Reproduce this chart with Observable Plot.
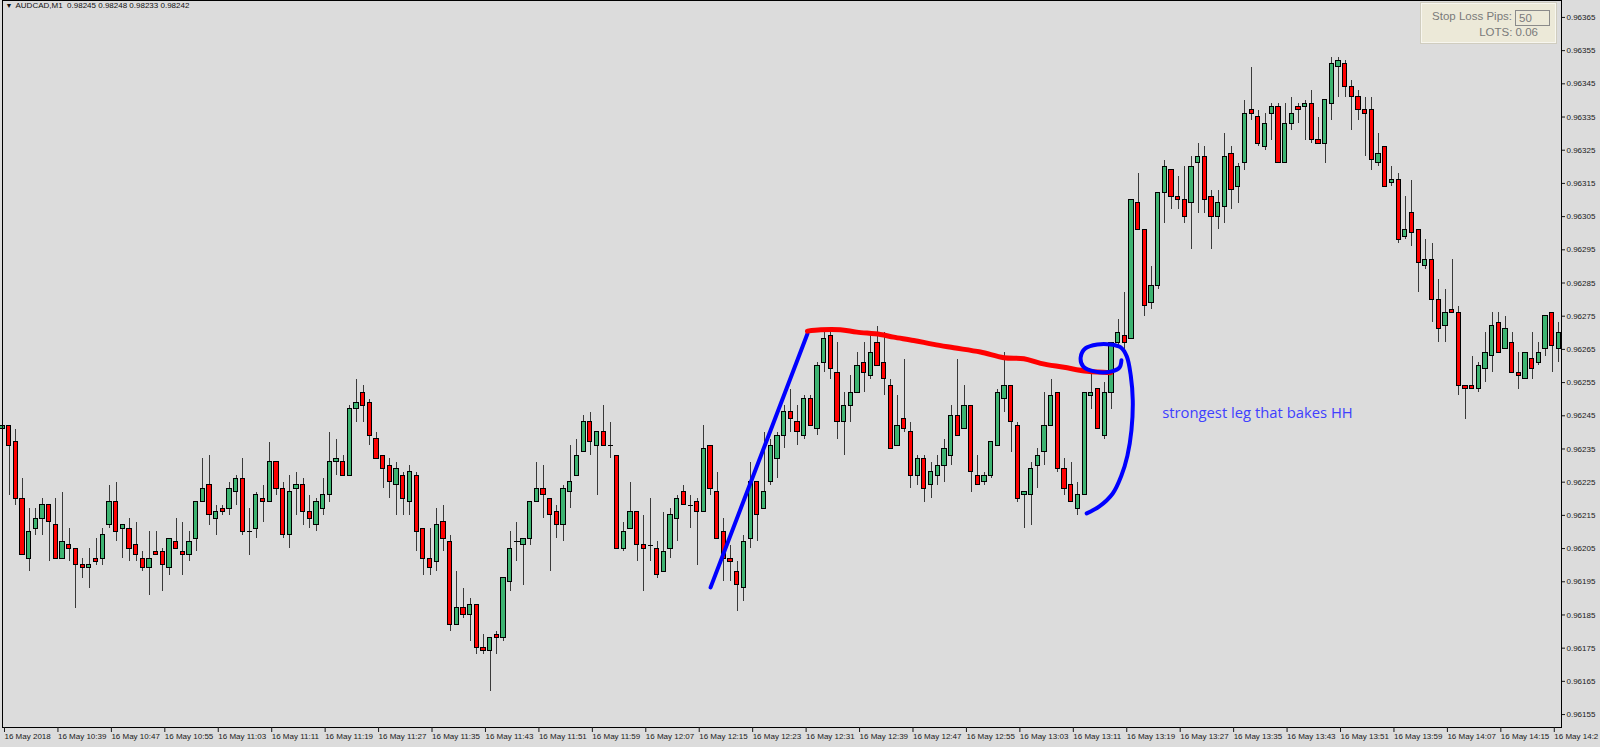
<!DOCTYPE html>
<html>
<head>
<meta charset="utf-8">
<script src="https://cdn.jsdelivr.net/npm/d3@7"></script>
<script src="https://cdn.jsdelivr.net/npm/@observablehq/plot@0.6"></script>
<style>
  html, body { margin: 0; padding: 0; background: #dcdcdc; overflow: hidden; }
  #wrap { position: relative; width: 1600px; height: 747px; }
  #slbox { position: absolute; left: 1421px; top: 3px; width: 133px; height: 38px;
    background: #ece9d8; border: 1px solid #f7f6ef; box-shadow: 0 0 0 1px #d0cdbf;
    font-family: "Liberation Sans", Arial, sans-serif; font-size: 11.5px; color: #7a7a7a; }
  #slbox .l1 { position: absolute; right: 43px; top: 6px; }
  #slbox .inp { position: absolute; left: 93px; top: 6px; width: 30px; height: 14px; border: 1px solid #8a8a8a; padding-left: 3px; line-height: 14px; box-sizing: content-box; }
  #slbox .l2 { position: absolute; right: 17px; top: 22px; }
</style>
</head>
<body>
<div id="wrap"></div>
<script>
// ---- chart header ----
const symbolName = "AUDCAD,M1";
const headerQuote = ["0.98245", "0.98248", "0.98233", "0.98242"];
const stopLossPips = "50";
const lotsValue = "0.06";
const noteText = "strongest leg that bakes HH";

// ---- M1 candles, 16 May 2018 10:31 .. 14:24 (one per minute) ----
const open = [
0.96241,0.96242,0.96237,0.96220,0.96202,0.96211,0.96214,0.96218,0.96212,0.96202,
0.96206,0.96205,0.96200,0.96199,0.96202,0.96202,0.96212,0.96219,0.96211,0.96211,
0.96206,0.96202,0.96199,0.96204,0.96204,0.96199,0.96207,0.96204,0.96203,0.96208,
0.96219,0.96224,0.96214,0.96217,0.96217,0.96222,0.96226,0.96210,0.96211,0.96220,
0.96219,0.96231,0.96223,0.96209,0.96223,0.96224,0.96216,0.96212,0.96217,0.96221,
0.96231,0.96231,0.96227,0.96247,0.96252,0.96249,0.96238,0.96233,0.96230,0.96224,
0.96227,0.96219,0.96227,0.96211,0.96202,0.96201,0.96213,0.96207,0.96182,0.96187,
0.96185,0.96188,0.96175,0.96174,0.96179,0.96178,0.96195,0.96207,0.96206,0.96208,
0.96219,0.96223,0.96220,0.96216,0.96212,0.96222,0.96227,0.96234,0.96243,0.96236,
0.96240,0.96236,0.96233,0.96205,0.96211,0.96216,0.96206,0.96206,0.96205,0.96198,
0.96205,0.96214,0.96222,0.96218,0.96219,0.96216,0.96236,0.96222,0.96210,0.96202,
0.96198,0.96193,0.96208,0.96225,0.96217,0.96225,0.96232,0.96239,0.96246,0.96243,
0.96239,0.96250,0.96241,0.96261,0.96269,0.96258,0.96243,0.96248,0.96252,0.96261,
0.96257,0.96267,0.96261,0.96254,0.96236,0.96244,0.96240,0.96227,0.96232,0.96224,
0.96227,0.96230,0.96233,0.96245,0.96241,0.96248,0.96227,0.96225,0.96227,0.96236,
0.96250,0.96254,0.96242,0.96221,0.96221,0.96230,0.96234,0.96242,0.96252,0.96229,
0.96224,0.96217,0.96221,0.96251,0.96253,0.96239,0.96252,0.96267,0.96269,0.96268,
0.96309,0.96301,0.96279,0.96284,0.96312,0.96319,0.96311,0.96310,0.96309,0.96321,
0.96323,0.96311,0.96305,0.96308,0.96324,0.96314,0.96321,0.96337,0.96335,0.96326,
0.96336,0.96338,0.96321,0.96333,0.96338,0.96338,0.96339,0.96328,0.96327,0.96339,
0.96350,0.96351,0.96344,0.96341,0.96337,0.96337,0.96321,0.96326,0.96315,0.96316,
0.96299,0.96306,0.96301,0.96290,0.96292,0.96280,0.96272,0.96277,0.96276,0.96254,
0.96254,0.96253,0.96259,0.96263,0.96273,0.96265,0.96267,0.96258,0.96256,0.96262,
0.96261,0.96265,0.96276,0.96265];
const high = [
0.96253,0.96242,0.96241,0.96226,0.96217,0.96217,0.96220,0.96218,0.96220,0.96222,
0.96211,0.96205,0.96202,0.96205,0.96208,0.96211,0.96224,0.96225,0.96212,0.96214,
0.96213,0.96204,0.96210,0.96210,0.96205,0.96208,0.96214,0.96213,0.96210,0.96219,
0.96232,0.96233,0.96218,0.96218,0.96225,0.96227,0.96232,0.96217,0.96222,0.96224,
0.96237,0.96231,0.96225,0.96227,0.96228,0.96226,0.96221,0.96220,0.96226,0.96240,
0.96238,0.96233,0.96248,0.96256,0.96254,0.96250,0.96240,0.96233,0.96232,0.96231,
0.96228,0.96230,0.96228,0.96211,0.96211,0.96217,0.96218,0.96209,0.96198,0.96193,
0.96190,0.96188,0.96179,0.96178,0.96180,0.96196,0.96210,0.96213,0.96208,0.96219,
0.96231,0.96230,0.96220,0.96218,0.96224,0.96236,0.96238,0.96245,0.96246,0.96240,
0.96248,0.96243,0.96233,0.96213,0.96225,0.96216,0.96215,0.96220,0.96207,0.96216,
0.96217,0.96221,0.96224,0.96221,0.96220,0.96242,0.96236,0.96228,0.96214,0.96206,
0.96201,0.96209,0.96231,0.96225,0.96240,0.96238,0.96240,0.96248,0.96253,0.96248,
0.96251,0.96251,0.96261,0.96271,0.96270,0.96267,0.96252,0.96257,0.96264,0.96267,
0.96270,0.96272,0.96270,0.96256,0.96251,0.96262,0.96243,0.96233,0.96233,0.96231,
0.96233,0.96238,0.96248,0.96262,0.96254,0.96248,0.96233,0.96228,0.96237,0.96253,
0.96264,0.96254,0.96243,0.96222,0.96231,0.96235,0.96252,0.96256,0.96252,0.96232,
0.96231,0.96225,0.96252,0.96259,0.96253,0.96255,0.96267,0.96274,0.96282,0.96310,
0.96318,0.96301,0.96290,0.96312,0.96322,0.96319,0.96317,0.96320,0.96323,0.96327,
0.96326,0.96313,0.96313,0.96330,0.96326,0.96321,0.96340,0.96350,0.96337,0.96336,
0.96339,0.96339,0.96339,0.96341,0.96339,0.96340,0.96343,0.96335,0.96340,0.96353,
0.96353,0.96352,0.96346,0.96343,0.96341,0.96341,0.96330,0.96326,0.96320,0.96318,
0.96311,0.96316,0.96301,0.96298,0.96297,0.96286,0.96283,0.96292,0.96278,0.96254,
0.96263,0.96261,0.96270,0.96276,0.96276,0.96275,0.96270,0.96264,0.96264,0.96270,
0.96267,0.96275,0.96276,0.96273];
const low = [
0.96239,0.96221,0.96218,0.96203,0.96198,0.96209,0.96209,0.96201,0.96202,0.96202,
0.96201,0.96187,0.96196,0.96193,0.96200,0.96200,0.96211,0.96207,0.96202,0.96201,
0.96201,0.96198,0.96191,0.96203,0.96192,0.96197,0.96205,0.96197,0.96201,0.96204,
0.96219,0.96212,0.96209,0.96215,0.96215,0.96218,0.96209,0.96203,0.96208,0.96213,
0.96219,0.96221,0.96208,0.96205,0.96215,0.96212,0.96211,0.96210,0.96215,0.96219,
0.96227,0.96227,0.96227,0.96243,0.96243,0.96236,0.96232,0.96223,0.96220,0.96215,
0.96215,0.96215,0.96204,0.96197,0.96197,0.96198,0.96204,0.96180,0.96182,0.96184,
0.96177,0.96173,0.96173,0.96162,0.96173,0.96177,0.96192,0.96201,0.96194,0.96206,
0.96219,0.96214,0.96198,0.96208,0.96207,0.96217,0.96227,0.96234,0.96233,0.96221,
0.96236,0.96232,0.96205,0.96204,0.96211,0.96201,0.96192,0.96201,0.96196,0.96198,
0.96202,0.96207,0.96218,0.96211,0.96200,0.96216,0.96221,0.96208,0.96195,0.96195,
0.96186,0.96189,0.96205,0.96207,0.96217,0.96224,0.96226,0.96235,0.96240,0.96236,
0.96238,0.96242,0.96239,0.96258,0.96256,0.96238,0.96233,0.96243,0.96252,0.96252,
0.96256,0.96260,0.96251,0.96235,0.96236,0.96240,0.96223,0.96224,0.96219,0.96220,
0.96224,0.96225,0.96230,0.96239,0.96241,0.96222,0.96224,0.96224,0.96226,0.96236,
0.96246,0.96234,0.96219,0.96211,0.96212,0.96223,0.96230,0.96242,0.96228,0.96221,
0.96219,0.96215,0.96221,0.96247,0.96241,0.96238,0.96247,0.96266,0.96265,0.96268,
0.96301,0.96275,0.96277,0.96283,0.96303,0.96307,0.96307,0.96303,0.96295,0.96306,
0.96306,0.96295,0.96301,0.96303,0.96307,0.96309,0.96319,0.96334,0.96326,0.96325,
0.96328,0.96321,0.96321,0.96331,0.96333,0.96328,0.96327,0.96327,0.96321,0.96334,
0.96341,0.96341,0.96331,0.96334,0.96323,0.96319,0.96320,0.96314,0.96314,0.96297,
0.96298,0.96296,0.96282,0.96289,0.96273,0.96267,0.96267,0.96276,0.96251,0.96244,
0.96253,0.96252,0.96255,0.96258,0.96264,0.96265,0.96258,0.96253,0.96256,0.96256,
0.96260,0.96263,0.96258,0.96261];
const close = [
0.96242,0.96236,0.96220,0.96203,0.96210,0.96214,0.96218,0.96213,0.96202,0.96207,
0.96205,0.96200,0.96199,0.96200,0.96201,0.96209,0.96219,0.96210,0.96212,0.96205,
0.96203,0.96199,0.96202,0.96203,0.96200,0.96208,0.96205,0.96203,0.96207,0.96219,
0.96223,0.96215,0.96216,0.96216,0.96223,0.96226,0.96210,0.96210,0.96221,0.96219,
0.96231,0.96223,0.96209,0.96222,0.96224,0.96216,0.96214,0.96219,0.96221,0.96231,
0.96232,0.96227,0.96247,0.96249,0.96248,0.96239,0.96232,0.96229,0.96225,0.96229,
0.96220,0.96228,0.96210,0.96202,0.96199,0.96212,0.96208,0.96182,0.96187,0.96185,
0.96188,0.96175,0.96174,0.96178,0.96178,0.96196,0.96205,0.96207,0.96208,0.96219,
0.96223,0.96221,0.96215,0.96212,0.96223,0.96225,0.96233,0.96243,0.96237,0.96240,
0.96236,0.96236,0.96205,0.96210,0.96216,0.96206,0.96205,0.96206,0.96197,0.96204,
0.96215,0.96220,0.96218,0.96218,0.96216,0.96235,0.96223,0.96208,0.96202,0.96201,
0.96194,0.96207,0.96225,0.96215,0.96222,0.96236,0.96239,0.96246,0.96244,0.96240,
0.96250,0.96242,0.96260,0.96268,0.96259,0.96243,0.96248,0.96252,0.96260,0.96258,
0.96264,0.96260,0.96256,0.96235,0.96242,0.96241,0.96227,0.96232,0.96223,0.96228,
0.96230,0.96235,0.96245,0.96239,0.96248,0.96228,0.96224,0.96227,0.96237,0.96252,
0.96254,0.96243,0.96220,0.96222,0.96229,0.96233,0.96242,0.96251,0.96229,0.96223,
0.96219,0.96221,0.96252,0.96252,0.96241,0.96252,0.96267,0.96270,0.96267,0.96310,
0.96301,0.96278,0.96284,0.96312,0.96320,0.96311,0.96310,0.96305,0.96320,0.96323,
0.96310,0.96305,0.96309,0.96323,0.96313,0.96320,0.96336,0.96336,0.96327,0.96333,
0.96338,0.96321,0.96333,0.96336,0.96337,0.96339,0.96328,0.96327,0.96340,0.96351,
0.96352,0.96344,0.96341,0.96337,0.96336,0.96322,0.96324,0.96314,0.96316,0.96298,
0.96301,0.96300,0.96291,0.96292,0.96280,0.96271,0.96276,0.96276,0.96254,0.96253,
0.96253,0.96260,0.96264,0.96272,0.96264,0.96271,0.96258,0.96257,0.96264,0.96259,
0.96264,0.96275,0.96266,0.96270];

// ---- axis tick labels (last one is shown clipped at the window edge, as in the source) ----
const timeTickLabels = [
"16 May 2018","16 May 10:39","16 May 10:47","16 May 10:55","16 May 11:03","16 May 11:11",
"16 May 11:19","16 May 11:27","16 May 11:35","16 May 11:43","16 May 11:51","16 May 11:59",
"16 May 12:07","16 May 12:15","16 May 12:23","16 May 12:31","16 May 12:39","16 May 12:47",
"16 May 12:55","16 May 13:03","16 May 13:11","16 May 13:19","16 May 13:27","16 May 13:35",
"16 May 13:43","16 May 13:51","16 May 13:59","16 May 14:07","16 May 14:15","16 May 14:2"];
const barsPerTimeTick = 8;
const priceTicks = [0.96155,0.96165,0.96175,0.96185,0.96195,0.96205,0.96215,0.96225,0.96235,0.96245,
0.96255,0.96265,0.96275,0.96285,0.96295,0.96305,0.96315,0.96325,0.96335,0.96345,0.96355,0.96365];

// ---- hand-drawn annotations (bar index, price) ----
const legBar = [106.0, 120.5];
const legPrice = [0.961933, 0.962697];
const ceilingBar = [120.5,122.5,125.4,127.9,131.4,133.4,136.4,139.4,142.4,146.4,149.9,152.9,155.4,158.9,162.4,165.9];
const ceilingPrice = [0.962705,0.962709,0.962709,0.962702,0.962695,0.962687,0.962677,0.962665,0.962655,0.962642,0.962625,0.962622,0.962608,0.962596,0.962584,0.962580];
const loopBar = [167.5,167.2,165.9,163.6,161.8,161.4,162.1,163.9,165.9,167.4,168.3,168.9,169.2,169.0,168.4,167.5,166.2,164.2,162.3];
const loopPrice = [0.962617,0.962595,0.962583,0.962583,0.962598,0.962626,0.962653,0.962665,0.962665,0.962656,0.962629,0.962571,0.962496,0.962406,0.962330,0.962270,0.962216,0.962177,0.962156];
const noteBar = [173.6];
const notePrice = [0.962442];

// ---- build tables ----
const candles = open.map((o, i) => ({i, o, h: high[i], l: low[i], c: close[i]}));
const bodies = candles.filter(d => d.o !== d.c);
const dojis = candles.filter(d => d.o === d.c);
const timeTicks = timeTickLabels.map((_, k) => k * barsPerTimeTick);
const leg = legBar.map((x, k) => ({x, y: legPrice[k]}));
const ceiling = ceilingBar.map((x, k) => ({x, y: ceilingPrice[k]}));
const loop = loopBar.map((x, k) => ({x, y: loopPrice[k]}));
const note = noteBar.map((x, k) => ({x, y: notePrice[k], t: noteText}));

const GREEN = "#3cb371", RED = "#ff0000";
const half = 0.32;

const chart = Plot.plot({
  width: 1600,
  height: 747,
  marginLeft: 2,
  marginRight: 39,
  marginTop: 0,
  marginBottom: 20,
  style: {background: "#dcdcdc", fontFamily: "'Liberation Sans', Arial, sans-serif", fontSize: "8px", color: "#1a1a1a", overflow: "hidden"},
  x: {type: "linear", domain: [0, 233.38]},
  y: {type: "linear", domain: [0.961511, 0.963701]},
  marks: [
    Plot.ruleX(candles, {x: "i", y1: "l", y2: "h", stroke: "#3a3a3a", strokeWidth: 1, shapeRendering: "crispEdges"}),
    Plot.rect(bodies, {x1: d => d.i - half, x2: d => d.i + half, y1: "o", y2: "c",
      fill: d => d.c > d.o ? GREEN : RED, stroke: "#000", strokeWidth: 1, shapeRendering: "crispEdges"}),
    Plot.link(dojis, {x1: d => d.i - 0.4, x2: d => d.i + 0.4, y1: "o", y2: "o", stroke: "#000", strokeWidth: 1, shapeRendering: "crispEdges"}),
    Plot.frame({stroke: "#000", strokeWidth: 1, shapeRendering: "crispEdges"}),
    Plot.axisY(priceTicks, {anchor: "right", tickSize: 3, tickPadding: 2, tickFormat: d3.format(".5f"), fontSize: 8, label: null}),
    Plot.axisX(timeTicks, {anchor: "bottom", tickSize: 5, tickPadding: 1, textAnchor: "start", dx: 2,
      tickFormat: d => timeTickLabels[d / barsPerTimeTick], fontSize: 8, label: null}),
    Plot.text(["\u25BC"], {frameAnchor: "top-left", dx: 3, dy: 3, lineAnchor: "top", textAnchor: "start", fontSize: 7, fill: "#111"}),
    Plot.text([symbolName + "  " + headerQuote.join(" ")], {frameAnchor: "top-left", dx: 13, dy: 2, lineAnchor: "top", textAnchor: "start", fontSize: 8, fill: "#111"}),
    Plot.line(leg, {x: "x", y: "y", stroke: "#0000ff", strokeWidth: 4, strokeLinecap: "round"}),
    Plot.line(ceiling, {x: "x", y: "y", stroke: "#ff0000", strokeWidth: 5, curve: "catmull-rom", strokeLinecap: "round"}),
    Plot.line(loop, {x: "x", y: "y", stroke: "#0000ff", strokeWidth: 4, curve: "catmull-rom", strokeLinecap: "round", strokeLinejoin: "round"}),
    Plot.text(note, {x: "x", y: "y", text: "t", textAnchor: "start", lineAnchor: "bottom", fill: "#4040ff", fontSize: 14.8, fontFamily: "'Open Sans', sans-serif"})
  ]
});

const wrap = document.getElementById("wrap");
wrap.appendChild(chart);

const box = document.createElement("div");
box.id = "slbox";
box.innerHTML = `<span class="l1">Stop Loss Pips:</span><span class="inp">${stopLossPips}</span><span class="l2">LOTS: ${lotsValue}</span>`;
wrap.appendChild(box);
</script>
</body>
</html>
